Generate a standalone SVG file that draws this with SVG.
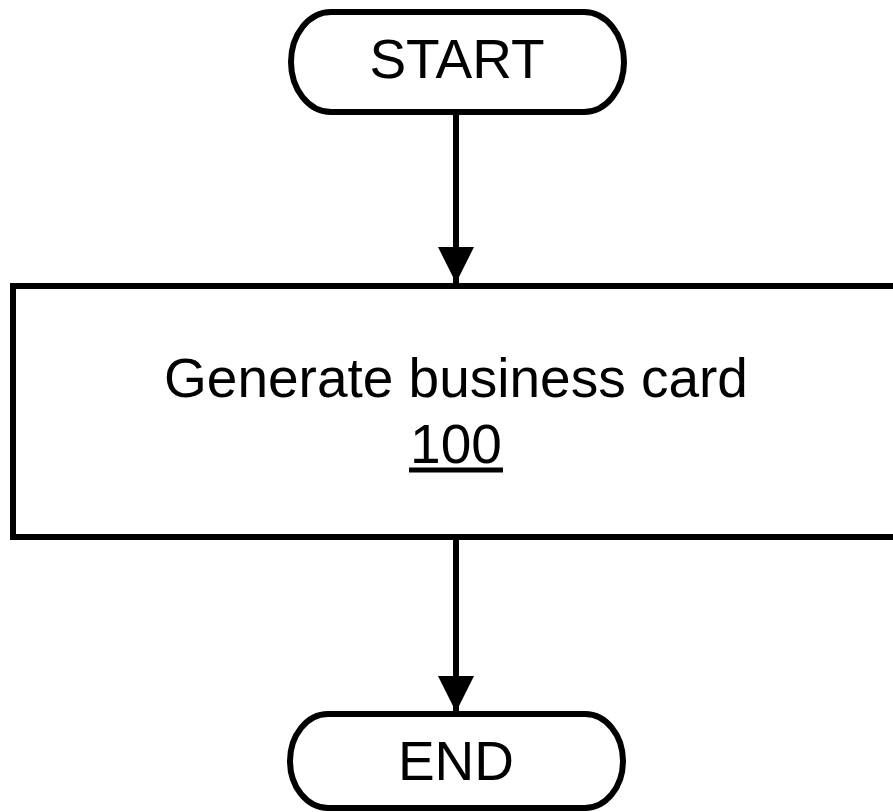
<svg xmlns="http://www.w3.org/2000/svg" width="893" height="812" viewBox="0 0 893 812">
<style>
.shape{fill:#fff;stroke:#000;stroke-width:6}
.t{font-family:"Liberation Sans",Arial,sans-serif;font-size:55px;fill:#000;text-anchor:middle}
.conn{stroke:#000;stroke-width:6;fill:none}
</style>
<defs>
<marker id="ah" markerUnits="userSpaceOnUse" markerWidth="38" markerHeight="36" refX="36" refY="18" orient="auto">
<path d="M0,0 L36,18 L0,36 Z" fill="#000"/>
</marker>
</defs>
<g id="start">
<rect class="shape" x="291" y="12" width="333" height="100" rx="40" ry="50"/>
<text class="t" x="457" y="78">START</text>
</g>
<g id="generate">
<rect class="shape" x="13" y="286" width="890" height="251"/>
<text class="t" x="456" y="397">Generate business card</text>
<text class="t" x="456" y="463">100</text>
<line x1="409" y1="470" x2="503" y2="470" stroke="#000" stroke-width="5"/>
</g>
<g id="end">
<rect class="shape" x="290" y="714" width="333" height="94" rx="38" ry="47"/>
<text class="t" x="456" y="780">END</text>
</g>
<g id="connectors">
<line class="conn" x1="456" y1="112" x2="456" y2="283" marker-end="url(#ah)"/>
<line class="conn" x1="456" y1="537" x2="456" y2="712" marker-end="url(#ah)"/>
</g>
</svg>
